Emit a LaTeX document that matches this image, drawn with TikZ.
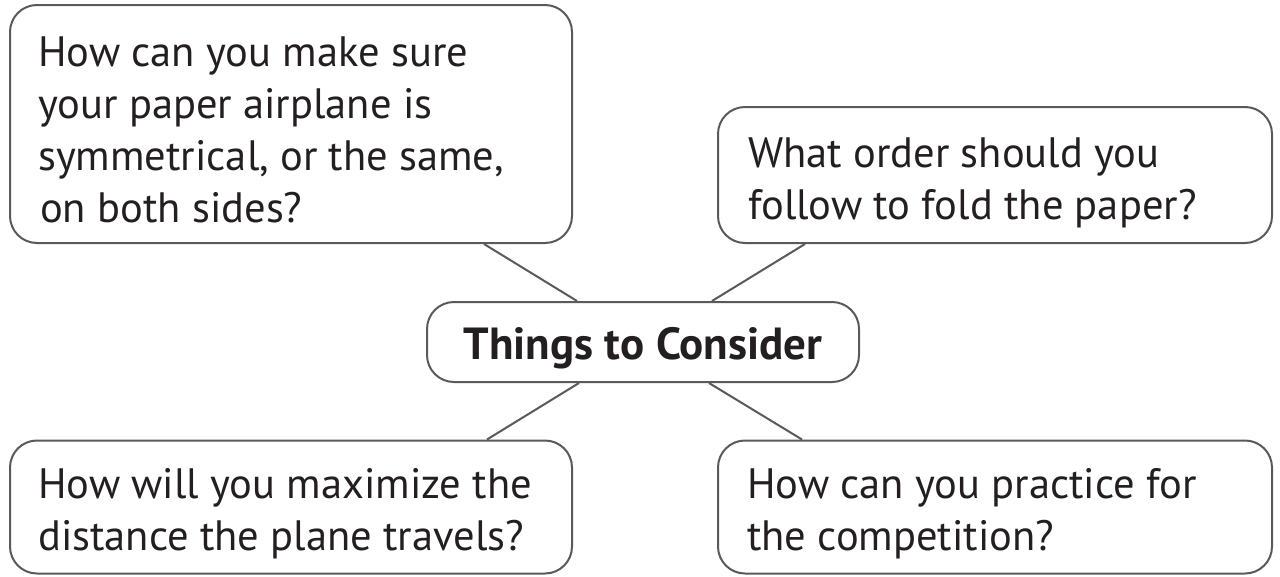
\documentclass[tikz,border=0pt]{standalone}
\usepackage{fontspec}
\setmainfont{PT Sans}
\definecolor{edge}{HTML}{5A5A5A}
\definecolor{ink}{HTML}{231F20}
\begin{document}
\begin{tikzpicture}[x=1pt,y=-1pt,
  bubble/.style={draw=edge,line width=2pt,rounded corners=27pt,inner sep=0pt,fill=white},
  link/.style={draw=edge,line width=2pt},
  qtext/.style={anchor=base west,inner sep=0pt,align=left,text=ink,font=\fontsize{42.5}{52}\selectfont},
  ttext/.style={anchor=base,inner sep=0pt,text=ink,font=\fontsize{45}{54}\selectfont\bfseries}]
\path[use as bounding box,fill=white] (0,0) rectangle (1280,576);
\node[bubble,minimum width=562pt,minimum height=238pt] (tl) at (291,124) {};
\node[bubble,minimum width=554pt,minimum height=136pt] (tr) at (995,175) {};
\node[bubble,minimum width=432pt,minimum height=80pt] (c) at (643,342) {};
\node[bubble,minimum width=562pt,minimum height=133pt] (bl) at (291,507) {};
\node[bubble,minimum width=554pt,minimum height=133pt] (br) at (995,507) {};
\draw[link] ([xshift=475pt]tl.south west) -- ([xshift=151pt]c.north west);
\draw[link] ([xshift=88pt]tr.south west) -- ([xshift=286pt]c.north west);
\draw[link] ([xshift=153pt]c.south west) -- ([xshift=478pt]bl.north west);
\draw[link] ([xshift=283pt]c.south west) -- ([xshift=85pt]br.north west);
\node[qtext] (tlt) at (38,222) {How can you make sure\\your paper airplane is\\symmetrical, or the same,\\\hspace{2pt}on both sides?};
\node[qtext] (trt) at (748,219) {What order should you\\follow to fold the paper?};
\node[qtext] (blt) at (38,550) {How will you maximize the\\distance the plane travels?};
\node[qtext] (brt) at (747,550) {How can you practice for\\the competition?};
\node[ttext] (ct) at (643,359) {Things to Consider};
\end{tikzpicture}
\end{document}
